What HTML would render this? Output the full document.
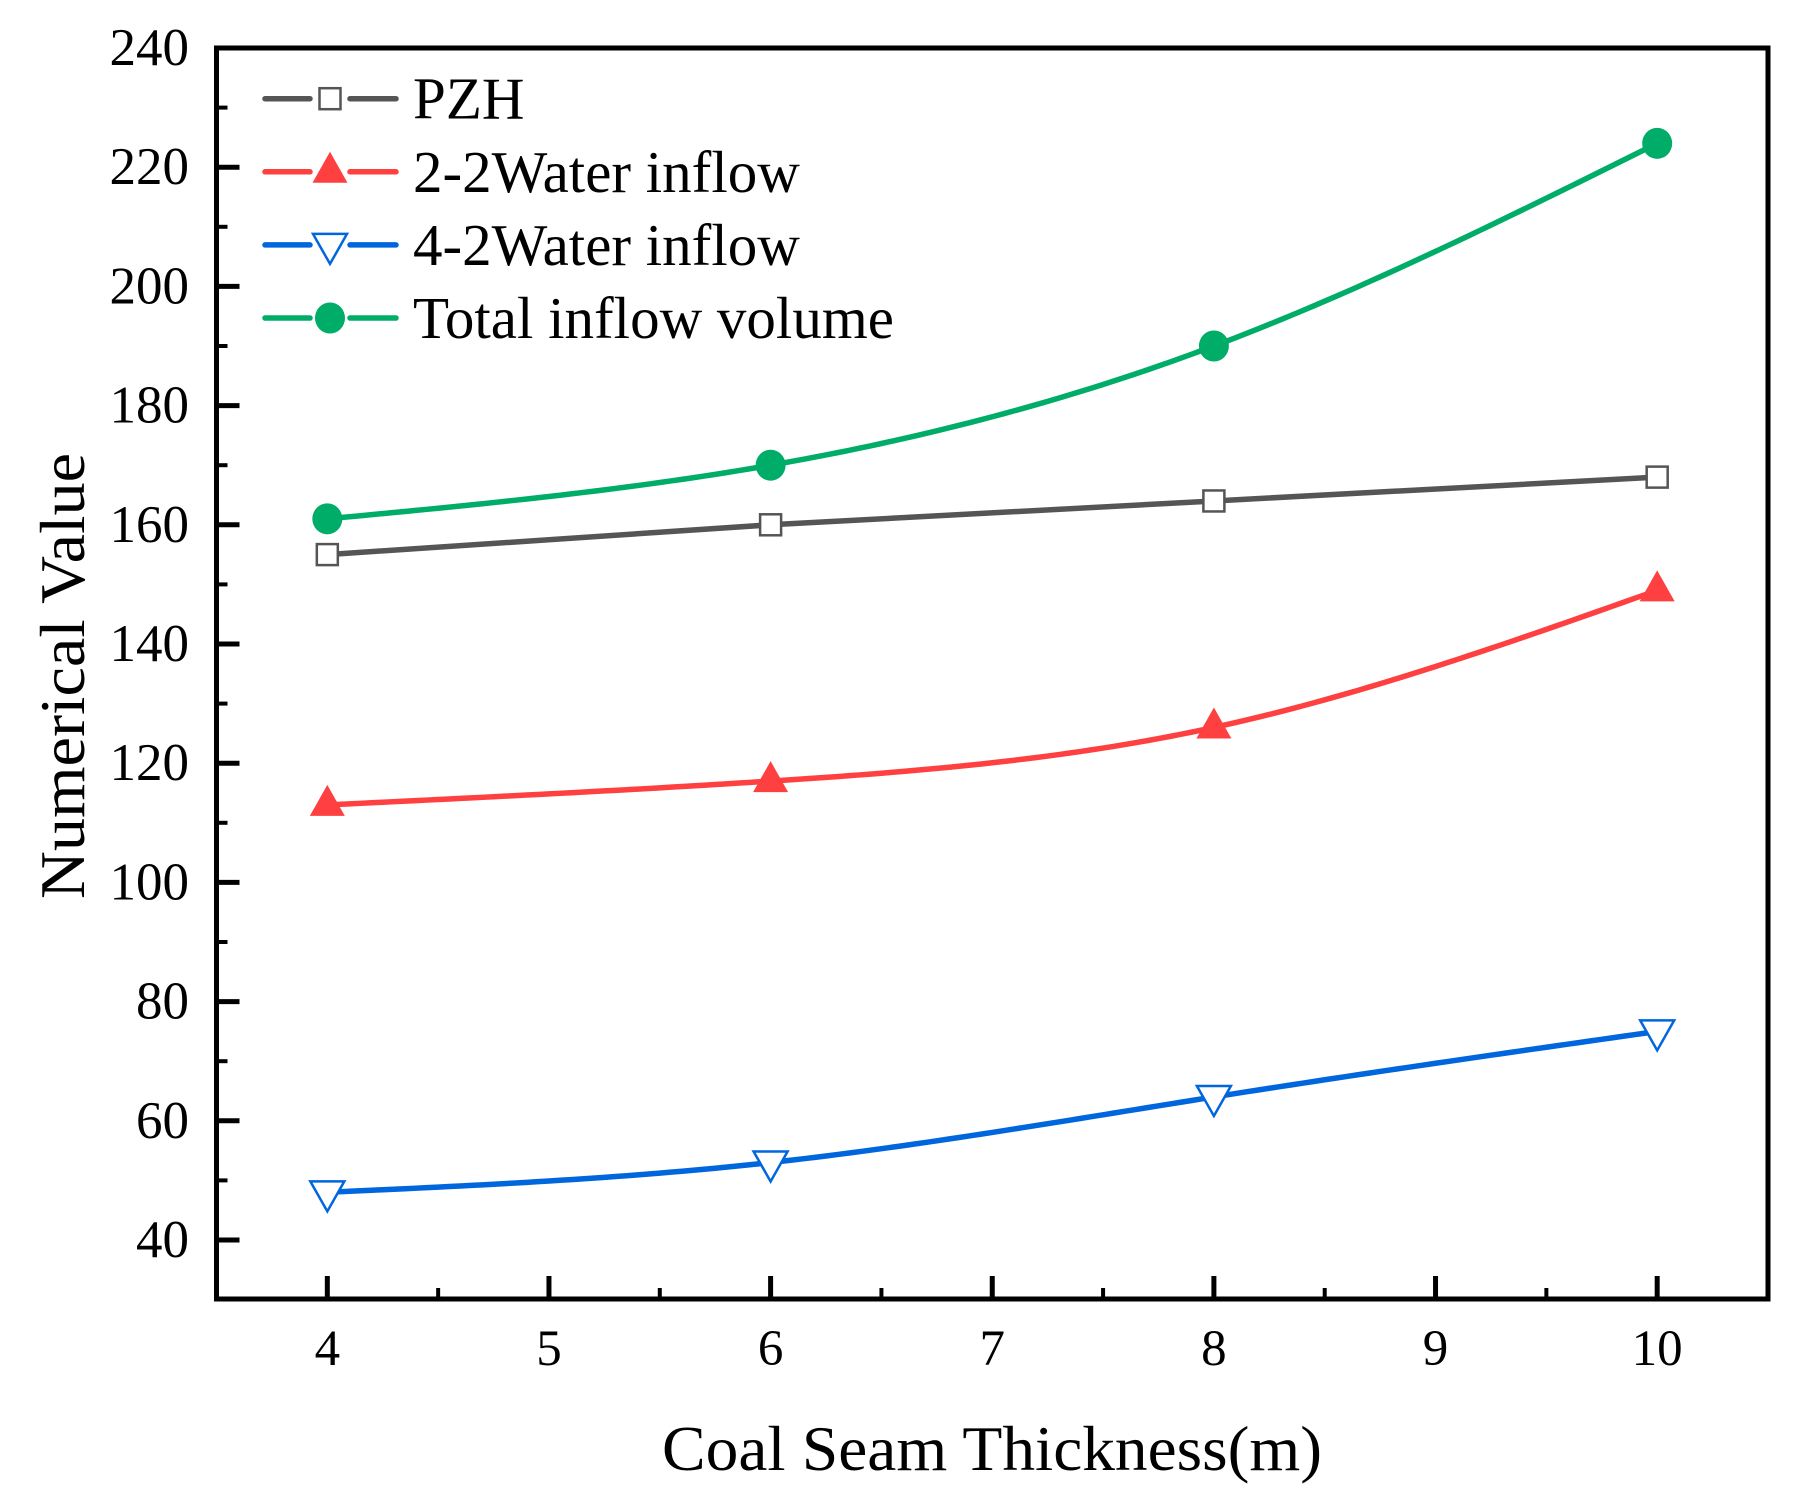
<!DOCTYPE html>
<html><head><meta charset="utf-8"><style>
html,body{margin:0;padding:0;background:#fff;}
svg{display:block;font-family:"Liberation Serif",serif;}
</style></head><body>
<svg id="chart" width="1811" height="1499" viewBox="0 0 1811 1499" xmlns="http://www.w3.org/2000/svg">
<rect width="1811" height="1499" fill="#fff"/>
<g id="series"></g>
<rect x="216.5" y="48" width="1551.5" height="1251" fill="none" stroke="#000" stroke-width="5"/>
<g id="axes"></g>
<g id="legend"></g>
<text x="992" y="1470" text-anchor="middle" font-size="64" textLength="660" lengthAdjust="spacingAndGlyphs">Coal Seam Thickness(m)</text>
<text transform="translate(84,676) rotate(-90)" text-anchor="middle" font-size="64" textLength="446" lengthAdjust="spacingAndGlyphs">Numerical Value</text>
</svg>
<script>
const categories = [4, 6, 8, 10];
const pzhValues = [155, 160, 164, 168];
const water22Values = [113, 117, 126, 149];
const water42Values = [48, 53, 64, 75];
const totalValues = [161, 170, 190, 224];
const xTickLabels = ["4","5","6","7","8","9","10"];
const yTickLabels = ["40","60","80","100","120","140","160","180","200","220","240"];
const seriesNames = ["PZH","2-2Water inflow","4-2Water inflow","Total inflow volume"];

const NS = "http://www.w3.org/2000/svg";
const X0 = 216.5, X1 = 1768, Y0 = 1299, Y1 = 48;
const xMin = 3.5, xMax = 10.5, yMin = 30.1, yMax = 240;
function xs(v){ return X0 + (v - xMin) / (xMax - xMin) * (X1 - X0); }
function ys(v){ return Y0 - (v - yMin) / (yMax - yMin) * (Y0 - Y1); }
function mk(tag, attrs, parent){ const e = document.createElementNS(NS, tag); for (const k in attrs) e.setAttribute(k, attrs[k]); parent.appendChild(e); return e; }

const axes = document.getElementById('axes');
xTickLabels.forEach(function(lbl){
  const v = parseFloat(lbl), x = xs(v);
  const t = mk('line', {x1:x, x2:x, y1:Y0, y2:Y0-23, stroke:'#000','stroke-width':5}, axes);
  
  
  if (v + 0.5 < xMax) {
    const m = mk('line', {x1:xs(v+0.5), x2:xs(v+0.5), y1:Y0, y2:Y0-11, stroke:'#000','stroke-width':4}, axes);
    
    
  }
  const tx = mk('text', {x:x, y:1365, 'text-anchor':'middle', 'font-size':51}, axes);
  tx.textContent = lbl;
  
  
});
mk('line', {x1:xs(3.5), x2:xs(3.5), y1:Y0, y2:Y0-11, stroke:'#000','stroke-width':4}, axes);
yTickLabels.forEach(function(lbl){
  const v = parseFloat(lbl), y = ys(v);
  const t = mk('line', {x1:X0, x2:X0+23, y1:y, y2:y, stroke:'#000','stroke-width':5}, axes);
  
  
  if (v + 10 < yMax) {
    const m = mk('line', {x1:X0, x2:X0+11, y1:ys(v+10), y2:ys(v+10), stroke:'#000','stroke-width':4}, axes);
    
    
  }
  const tx = mk('text', {x:189, y:y+17, 'text-anchor':'end', 'font-size':53}, axes);
  tx.textContent = lbl;
  
  
});

function spline(xv, yv){
  const n = xv.length, h = [], a = [], c = new Array(n).fill(0), l = [1], mu = [0], z = [0];
  for (let i = 0; i < n-1; i++) h.push(xv[i+1]-xv[i]);
  for (let i = 1; i < n-1; i++) a[i] = 3/h[i]*(yv[i+1]-yv[i]) - 3/h[i-1]*(yv[i]-yv[i-1]);
  for (let i = 1; i < n-1; i++){ l[i] = 2*(xv[i+1]-xv[i-1]) - h[i-1]*mu[i-1]; mu[i] = h[i]/l[i]; z[i] = (a[i]-h[i-1]*z[i-1])/l[i]; }
  const b = [], d = [];
  for (let j = n-2; j >= 0; j--){ c[j] = (j===0?0:z[j]-mu[j]*c[j+1]); b[j] = (yv[j+1]-yv[j])/h[j] - h[j]*(c[j+1]+2*c[j])/3; d[j] = (c[j+1]-c[j])/(3*h[j]); }
  let p = '';
  for (let j = 0; j < n-1; j++){
    for (let k = 0; k <= 40; k++){
      const t = h[j]*k/40, x = xv[j]+t, y = yv[j]+b[j]*t+c[j]*t*t+d[j]*t*t*t;
      p += (p ? 'L' : 'M') + xs(x).toFixed(2) + ',' + ys(y).toFixed(2);
    }
  }
  return p;
}

const colors = ['#555555','#ff4040','#0066dd','#00ad68'];
const markers = ['square','triUp','triDown','circle'];
function drawMarker(type, cx, cy, color, parent){
  let e;
  if (type === 'square') e = mk('rect', {x:cx-10.5, y:cy-10.5, width:21, height:21, fill:'#fff', stroke:color, 'stroke-width':2.5}, parent);
  else if (type === 'triUp') e = mk('polygon', {points:(cx-17.5)+','+(cy+11)+' '+(cx+17.5)+','+(cy+11)+' '+cx+','+(cy-20), fill:color}, parent);
  else if (type === 'triDown') e = mk('polygon', {points:(cx-17)+','+(cy-11)+' '+(cx+17)+','+(cy-11)+' '+cx+','+(cy+19), fill:'#fff', stroke:color, 'stroke-width':2.5}, parent);
  else e = mk('ellipse', {cx:cx, cy:cy, rx:15, ry:15.5, fill:color}, parent);
  return e;
}

const seriesG = document.getElementById('series');
const allValues = [pzhValues, water22Values, water42Values, totalValues];
const seriesKeys = ['pzh','water-2-2','water-4-2','total-inflow'];
allValues.forEach(function(vals, si){
  const path = mk('path', {d: si === 0 ? categories.map(function(c,i){return (i?'L':'M')+xs(c)+','+ys(vals[i]);}).join('') : spline(categories, vals), fill:'none', stroke:colors[si], 'stroke-width':5.5, 'stroke-linejoin':'round'}, seriesG);
  
  
  categories.forEach(function(c, i){
    const m = drawMarker(markers[si], xs(c), ys(vals[i]), colors[si], seriesG);
    
    
  });
});

const legend = document.getElementById('legend');
seriesNames.forEach(function(name, si){
  const y = 98.7 + si * 73.1;
  const g = mk('g', {}, legend);
  
  
  mk('line', {x1:265, x2:310, y1:y, y2:y, stroke:colors[si], 'stroke-width':5.5, 'stroke-linecap':'round'}, g);
  mk('line', {x1:350, x2:396, y1:y, y2:y, stroke:colors[si], 'stroke-width':5.5, 'stroke-linecap':'round'}, g);
  drawMarker(markers[si], 330, y, colors[si], g);
  const t = mk('text', {x:413, y:y+20, 'font-size':59}, g);
  t.textContent = name;
});
</script>
</body></html>
